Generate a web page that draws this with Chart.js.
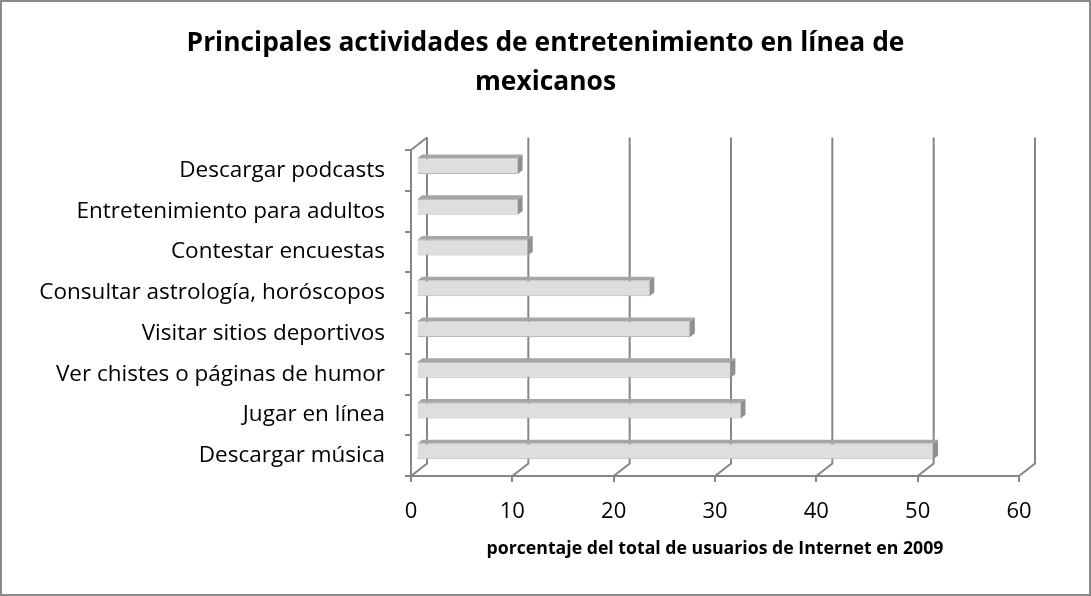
<!DOCTYPE html>
<html>
<head>
<meta charset="utf-8">
<script src="https://cdn.jsdelivr.net/npm/chart.js@4"></script>
<style>
  html, body { margin: 0; padding: 0; background: #fff; }
  canvas { display: block; }
</style>
</head>
<body>
<canvas id="c" width="1091" height="596"></canvas>
<script>
// ---- data ----
const categories = [
  'Descargar podcasts',
  'Entretenimiento para adultos',
  'Contestar encuestas',
  'Consultar astrología, horóscopos',
  'Visitar sitios deportivos',
  'Ver chistes o páginas de humor',
  'Jugar en línea',
  'Descargar música'
];
const values = [10, 10, 11, 23, 27, 31, 32, 51];
const titleLines = ['Principales actividades de entretenimiento en línea de', 'mexicanos'];
const xAxisTitle = 'porcentaje del total de usuarios de Internet en 2009';
const xMin = 0, xMax = 60, xStep = 10;

// ---- 3D look ----
const depth = { x: 16, y: -12.5 };
const barFront = 0.34, barBack = 0.64;
const lineCol = '#868686';
const FONT = '"Open Sans", Lato, sans-serif';
const SIDE = 20;

const frame3d = {
  id: 'frame3d',
  beforeDraw(chart) {
    const c = chart.ctx;
    c.save();
    c.fillStyle = '#fff';
    c.fillRect(0, 0, chart.width, chart.height);
    c.strokeStyle = '#8a8a8a';
    c.lineWidth = 2;
    c.strokeRect(1, 1, chart.width - 2, chart.height - 2);
    c.restore();
  },
  beforeDatasetsDraw(chart) {
    const { ctx, chartArea: a, scales: { x } } = chart;
    ctx.save();
    ctx.strokeStyle = lineCol;
    ctx.lineWidth = 2;
    for (const t of x.ticks) {
      const px = x.getPixelForValue(t.value);
      ctx.beginPath();
      ctx.moveTo(px, a.bottom);
      ctx.lineTo(px + depth.x, a.bottom + depth.y);
      ctx.lineTo(px + depth.x, a.top + depth.y);
      ctx.stroke();
    }
    ctx.beginPath();
    ctx.moveTo(a.left, a.top);
    ctx.lineTo(a.left + depth.x, a.top + depth.y);
    ctx.stroke();
    ctx.restore();
    ctx.save();
    ctx.translate(depth.x * barFront, depth.y * barFront);
  },
  afterDatasetsDraw(chart) {
    const ctx = chart.ctx;
    ctx.restore();
    const fx = depth.x * barFront, fy = depth.y * barFront;
    const bx = depth.x * barBack, by = depth.y * barBack;
    const meta = chart.getDatasetMeta(0);
    ctx.save();
    for (const el of meta.data) {
      const p = el.getProps(['x', 'y', 'base', 'height'], true);
      const top = p.y - p.height / 2, bottom = p.y + p.height / 2;
      ctx.fillStyle = '#a6a6a6';
      ctx.beginPath();
      ctx.moveTo(p.base + fx, top + fy);
      ctx.lineTo(p.x + fx, top + fy);
      ctx.lineTo(p.x + bx, top + by);
      ctx.lineTo(p.base + bx, top + by);
      ctx.closePath();
      ctx.fill();
      ctx.fillStyle = '#909090';
      ctx.beginPath();
      ctx.moveTo(p.x + fx, top + fy);
      ctx.lineTo(p.x + bx, top + by);
      ctx.lineTo(p.x + bx, bottom + by);
      ctx.lineTo(p.x + fx, bottom + fy);
      ctx.closePath();
      ctx.fill();
    }
    ctx.restore();
  }
};

new Chart(document.getElementById('c'), {
  type: 'bar',
  data: {
    labels: categories,
    datasets: [{
      data: values,
      backgroundColor: '#dedede',
      borderColor: '#b8b8b8',
      borderWidth: 1,
      categoryPercentage: 1,
      barPercentage: 0.39,
      clip: false
    }]
  },
  options: {
    indexAxis: 'y',
    responsive: false,
    animation: false,
    devicePixelRatio: 1,
    layout: { padding: { left: SIDE, right: SIDE, top: 0, bottom: 0 } },
    plugins: {
      legend: { display: false },
      tooltip: { enabled: false },
      title: {
        display: true,
        text: titleLines,
        color: '#000',
        font: { family: FONT, size: 26.4, weight: 'bold', lineHeight: 1.5 },
        padding: { top: 23.5, bottom: 47.3 }
      }
    },
    scales: {
      x: {
        min: xMin,
        max: xMax,
        ticks: { stepSize: xStep, color: '#000', font: { family: FONT, size: 22 }, padding: 17 },
        grid: { drawOnChartArea: false, drawTicks: true, tickLength: 6, color: lineCol, lineWidth: 2 },
        border: { display: true, color: lineCol, width: 2 },
        title: {
          display: true,
          text: xAxisTitle,
          color: '#000',
          font: { family: FONT, size: 17.7, weight: 'bold', lineHeight: 1.2 },
          padding: { top: 0, bottom: 36 }
        },
        afterFit(scale) { scale.height = 120; }
      },
      y: {
        clip: false,
        ticks: { color: '#000', font: { family: FONT, size: 22.5 }, padding: 20 },
        grid: { drawOnChartArea: false, drawTicks: true, tickLength: 6, color: lineCol, lineWidth: 2 },
        border: { display: true, color: lineCol, width: 2 },
        afterFit(scale) { scale.width = 411 - SIDE; }
      },
      yRight: {
        type: 'category',
        position: 'right',
        display: true,
        ticks: { display: false },
        grid: { display: false, drawTicks: false },
        border: { display: false },
        afterFit(scale) { scale.width = 1091 - SIDE - 1019; }
      }
    }
  },
  plugins: [frame3d]
});
</script>
</body>
</html>
